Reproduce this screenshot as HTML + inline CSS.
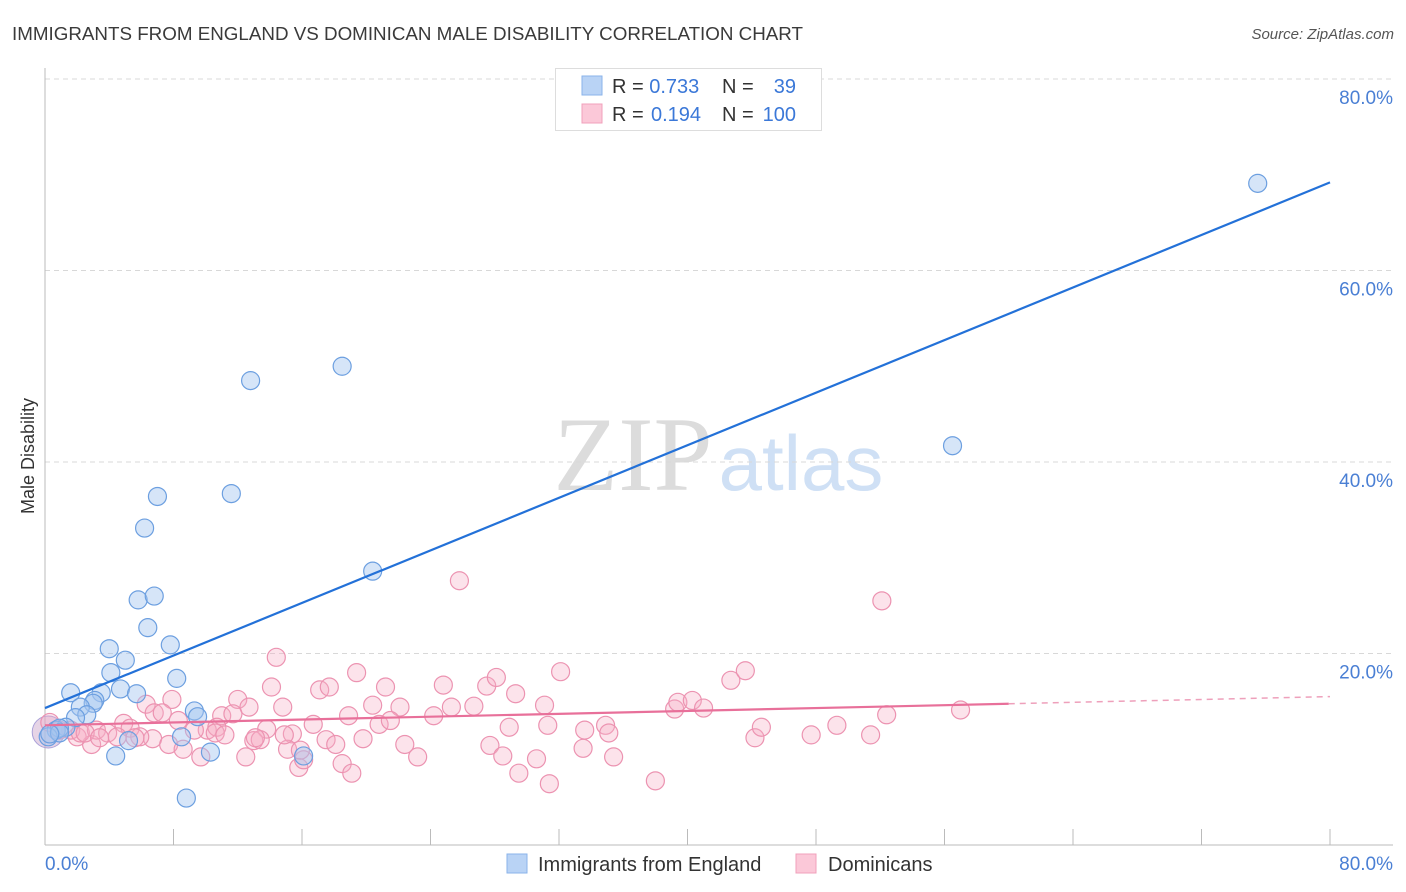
<!DOCTYPE html>
<html><head><meta charset="utf-8"><style>
body{margin:0;background:#fff;font-family:"Liberation Sans",sans-serif}
#wrap{position:relative;width:1406px;height:892px;overflow:hidden}
</style></head><body>
<div id="wrap">
<svg id="svg" width="1406" height="892" xmlns="http://www.w3.org/2000/svg">
<text x="12" y="40" font-size="18.8" fill="#3a3a3a">IMMIGRANTS FROM ENGLAND VS DOMINICAN MALE DISABILITY CORRELATION CHART</text>
<text x="1394" y="39" font-size="15" fill="#555" font-style="italic" text-anchor="end">Source: ZipAtlas.com</text>
<text transform="translate(34,456) rotate(-90)" font-size="18" fill="#333" text-anchor="middle">Male Disability</text>
<g>
<text x="633" y="490" font-size="106" fill="#dcdcdc" font-family="Liberation Serif,serif" text-anchor="middle">ZIP</text>
<text x="801" y="490" font-size="78" fill="#cfe0f5" text-anchor="middle">atlas</text>
</g>
<g id="grid"></g><g id="axes"></g><g id="pts"></g><g id="lines"></g>
<g>
<rect x="555.5" y="68.5" width="266" height="62" fill="#fff" stroke="#ddd"/>
<rect x="582" y="76" width="20" height="19" fill="#b9d3f5" stroke="#8ab3ea"/>
<rect x="582" y="104" width="20" height="19" fill="#fbc8d8" stroke="#f0a0bb"/>
<text x="612" y="93" font-size="20" fill="#333">R = <tspan fill="#3b78d8">0.733</tspan></text>
<text x="722" y="93" font-size="20" fill="#333">N = </text><text x="796" y="93" font-size="20" fill="#3b78d8" text-anchor="end">39</text>
<text x="612" y="121" font-size="20" fill="#333">R = </text><text x="651" y="121" font-size="20" fill="#3b78d8">0.194</text>
<text x="722" y="121" font-size="20" fill="#333">N = </text><text x="796" y="121" font-size="20" fill="#3b78d8" text-anchor="end">100</text>
</g>
<g>
<rect x="507" y="854" width="20" height="19" fill="#b9d3f5" stroke="#8ab3ea"/>
<text x="538" y="871" font-size="20" fill="#333">Immigrants from England</text>
<rect x="796" y="854" width="20" height="19" fill="#fbc8d8" stroke="#f0a0bb"/>
<text x="828" y="871" font-size="20" fill="#333">Dominicans</text>
</g>
</svg>
</div>
<script>
const yTicks=[20,40,60,80];
const xTickLabels=["0.0%","80.0%"];
const blueX=[75.5,18.5,12.8,56.5,7.0,11.6,6.2,20.4,5.8,6.8,6.4,7.8,4.0,5.0,4.1,8.2,1.6,3.5,4.7,5.7,3.1,3.0,2.2,2.6,9.3,9.5,1.9,1.3,0.7,0.9,8.5,5.2,0.2,4.4,10.3,16.1,0.9,8.8,0.3];
const blueY=[69.1,50.0,48.5,41.7,36.4,36.7,33.1,28.6,25.6,26.0,22.7,20.9,20.5,19.3,18.0,17.4,15.9,15.9,16.3,15.8,15.1,14.8,14.4,13.6,14.0,13.4,13.3,12.3,12.0,12.2,11.3,10.9,11.3,9.3,9.7,9.3,11.7,4.9,11.6];
const pinkX=[14.4,14.1,19.4,17.1,17.7,21.2,24.8,7.9,6.3,12.0,12.7,14.8,20.4,22.1,25.3,18.9,6.8,7.3,8.3,11.0,11.7,4.9,5.3,16.7,20.8,21.5,24.2,13.8,15.4,13.0,13.4,17.5,18.1,19.8,6.7,7.7,2.9,2.0,8.6,15.1,22.4,12.5,9.7,15.8,16.1,18.5,19.1,23.2,0.9,1.6,2.2,3.2,3.9,4.5,5.9,10.1,10.7,9.3,25.8,27.5,28.1,29.3,31.1,32.1,26.7,28.9,31.3,27.7,28.5,29.5,30.6,31.4,33.5,33.6,34.9,35.1,35.4,38.0,39.2,39.4,40.3,41.0,42.7,43.6,44.2,44.6,47.7,49.3,51.4,52.1,52.4,57.0,0.3,2.5,3.4,5.6,10.6,11.2,13.1,14.9,15.9];
const pinkY=[19.6,16.5,18.0,16.2,16.5,16.5,16.7,15.2,14.7,15.2,14.4,14.4,14.6,14.4,14.4,13.5,13.8,13.8,13.0,13.5,13.7,12.7,12.2,12.6,12.6,13.0,13.5,12.1,11.6,10.9,11.0,11.0,10.5,11.1,11.1,10.5,10.5,11.3,10.0,10.0,10.5,9.2,9.2,8.1,8.9,8.5,7.5,9.2,12.0,12.0,11.7,12.0,11.7,11.3,11.3,12.0,12.3,12.0,27.6,16.6,17.5,15.8,14.6,18.1,14.5,12.3,12.5,10.4,9.3,7.5,9.0,6.4,10.1,12.0,12.5,11.7,9.2,6.7,14.2,14.9,15.1,14.3,17.2,18.2,11.2,12.3,11.5,12.5,11.5,25.5,13.6,14.1,12.8,11.7,11.2,11.2,11.7,11.5,11.2,11.5,9.9];
const blueTrend=[14.3,69.2];   // y at x=0, y at x=80
const pinkTrend=[12.5,15.5];
const pinkSolidEnd=60;

const NS="http://www.w3.org/2000/svg";
const X0=45,X1=1330,Y0=845,Y80=79;
const sx=v=>X0+(X1-X0)*v/80, sy=v=>Y0-(Y0-Y80)*v/80;
function mk(tag,attrs,parent){const e=document.createElementNS(NS,tag);for(const k in attrs)e.setAttribute(k,attrs[k]);document.getElementById(parent).appendChild(e);return e;}
yTicks.forEach(t=>{
  const g=mk('line',{x1:45,x2:1393,y1:sy(t),y2:sy(t),stroke:'#d8d8d8','stroke-dasharray':'5,4'},'grid');
  
  
  const l=mk('text',{x:1393,y:sy(t)+25,'font-size':19,fill:'#4a7fd4','text-anchor':'end'},'grid');
  l.textContent=t.toFixed(1)+'%';
  
  
});
const ax=mk('line',{x1:45,x2:45,y1:68,y2:845,stroke:'#bbb'},'axes');


const bx=mk('line',{x1:45,x2:1393,y1:845,y2:845,stroke:'#bbb'},'axes');


for(let i=0;i<=10;i++){
  const t=mk('line',{x1:sx(i*8),x2:sx(i*8),y1:829,y2:845,stroke:'#bbb'},'axes');
  
  
}
const xl0=mk('text',{x:45,y:870,'font-size':19,fill:'#4a7fd4'},'axes');xl0.textContent=xTickLabels[0];


const xl1=mk('text',{x:1393,y:870,'font-size':19,fill:'#4a7fd4','text-anchor':'end'},'axes');xl1.textContent=xTickLabels[1];


const bb=mk('circle',{cx:sx(0.2),cy:sy(11.8),r:16,fill:'rgba(200,160,200,0.45)',stroke:'#a9a0d8'},'pts');


pinkX.forEach((v,i)=>{
  const c=mk('circle',{cx:sx(v),cy:sy(pinkY[i]),r:9,fill:'rgba(246,175,198,0.35)',stroke:'#ec93b1','stroke-width':1.2},'pts');
  
  
});
blueX.forEach((v,i)=>{
  const c=mk('circle',{cx:sx(v),cy:sy(blueY[i]),r:9,fill:'rgba(165,198,240,0.45)',stroke:'#6c9fe0','stroke-width':1.2},'pts');
  
  
});
const bl=mk('line',{x1:sx(0),y1:sy(blueTrend[0]),x2:sx(80),y2:sy(blueTrend[1]),stroke:'#2371d8','stroke-width':2.2},'lines');


const pm=pinkTrend[0]+(pinkTrend[1]-pinkTrend[0])*pinkSolidEnd/80;
const pl=mk('line',{x1:sx(0),y1:sy(pinkTrend[0]),x2:sx(pinkSolidEnd),y2:sy(pm),stroke:'#e8709a','stroke-width':2.2},'lines');


const pd=mk('line',{x1:sx(pinkSolidEnd),y1:sy(pm),x2:sx(80),y2:sy(pinkTrend[1]),stroke:'#eea0bb','stroke-width':1.5,'stroke-dasharray':'6,5'},'lines');


</script>
</body></html>
